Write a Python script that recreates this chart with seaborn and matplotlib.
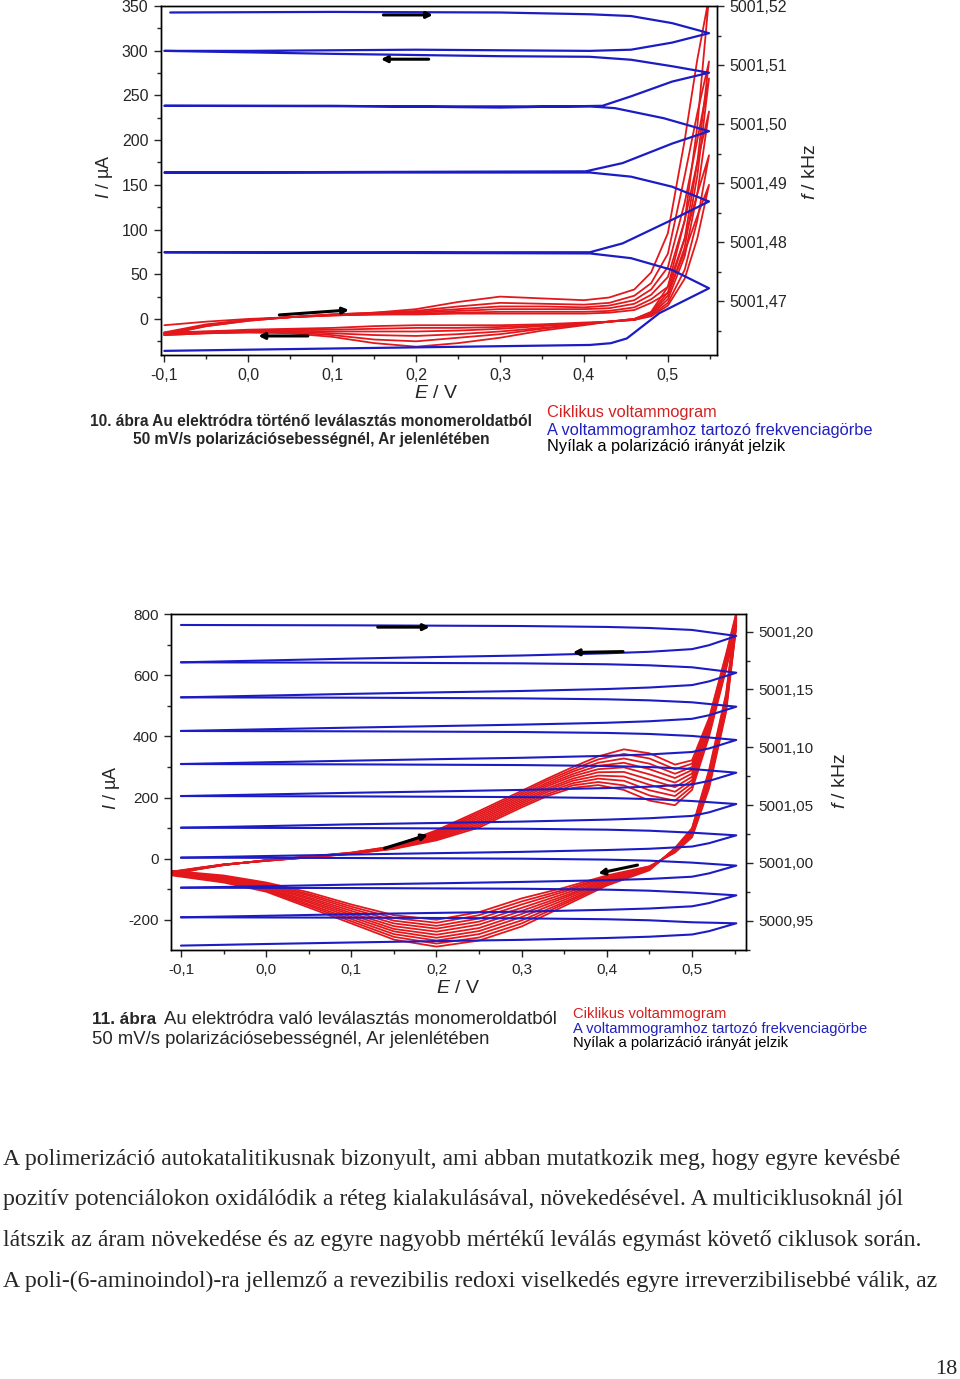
import matplotlib.pyplot as plt
import matplotlib.ticker as mticker
import seaborn as sns
import pandas as pd

# ---------------- 10. abra (upper chart) ----------------
# cyclic voltammogram, 6 cycles, current in uA
e_cv1_fwd = [-0.1, -0.05, 0.0, 0.05, 0.1, 0.15, 0.2, 0.25, 0.3, 0.35, 0.4, 0.43, 0.46, 0.48, 0.5, 0.52, 0.535, 0.549]
e_cv1_bwd = [0.549, 0.535, 0.52, 0.5, 0.48, 0.46, 0.43, 0.4, 0.35, 0.3, 0.25, 0.2, 0.15, 0.1, 0.05, 0.0, -0.05, -0.1]
i_cv1_fwd = [
    [-7, -3, 0, 2, 4, 5, 5, 6, 6, 6, 6, 7, 10, 18, 29, 75, 115, 150],
    [-15, -6, -1, 2, 4, 5, 6, 7, 8, 8, 8, 9, 13, 22, 36, 90, 140, 183],
    [-16, -7, -1, 2, 4, 6, 7, 9, 11, 11, 11, 12, 17, 27, 47, 110, 175, 232],
    [-16, -7, -1, 2, 5, 6, 8, 11, 14, 14, 13, 15, 21, 33, 58, 130, 200, 269],
    [-17, -8, -2, 2, 5, 7, 9, 14, 18, 17, 16, 18, 26, 40, 73, 160, 230, 288],
    [-18, -8, -2, 2, 5, 7, 11, 19, 25, 23, 21, 24, 33, 52, 96, 200, 290, 360],
]
i_cv1_bwd = [
    [150, 90, 45, 15, 3, -1, -3, -4, -6, -7, -7, -7, -8, -10, -11, -12, -14, -15],
    [183, 110, 55, 18, 4, -1, -3, -5, -7, -9, -10, -10, -11, -12, -12, -13, -14, -16],
    [232, 140, 70, 22, 5, -1, -3, -5, -8, -11, -13, -14, -14, -14, -13, -13, -15, -16],
    [269, 160, 80, 26, 6, 0, -3, -6, -10, -14, -17, -19, -18, -16, -14, -14, -15, -17],
    [288, 175, 90, 30, 7, 0, -3, -6, -11, -17, -21, -25, -23, -18, -15, -15, -16, -18],
    [360, 215, 110, 36, 8, 0, -3, -7, -13, -21, -27, -31, -27, -20, -16, -15, -16, -18],
]
# frequency curve (one continuous path), kHz
e_freq1 = [-0.093, 0.1, 0.3, 0.407, 0.456, 0.505, 0.549,
           0.505, 0.456, 0.407, 0.2, 0.0, -0.1,
           0.1, 0.3, 0.407, 0.456, 0.505, 0.549,
           0.505, 0.456, 0.422, 0.3, 0.1, -0.1,
           0.2, 0.407, 0.437, 0.495, 0.549,
           0.505, 0.446, 0.402, -0.1,
           0.407, 0.456, 0.505, 0.549,
           0.505, 0.446, 0.407, -0.1,
           0.407, 0.456, 0.505, 0.549,
           0.49, 0.451, 0.432, 0.407, 0.1, -0.1]
f_freq1 = [5001.5189, 5001.5190, 5001.5189, 5001.5186, 5001.5183, 5001.5171, 5001.5154,
           5001.5138, 5001.5126, 5001.5124, 5001.5126, 5001.5124, 5001.5124,
           5001.5119, 5001.5115, 5001.5114, 5001.5109, 5001.5098, 5001.5087,
           5001.5072, 5001.5047, 5001.5031, 5001.5028, 5001.5031, 5001.5031,
           5001.5030, 5001.5030, 5001.5027, 5001.5010, 5001.4988,
           5001.4967, 5001.4934, 5001.4920, 5001.4918,
           5001.4918, 5001.4911, 5001.4894, 5001.4869,
           5001.4838, 5001.4798, 5001.4783, 5001.4783,
           5001.4781, 5001.4773, 5001.4753, 5001.4722,
           5001.4680, 5001.4637, 5001.4629, 5001.4626, 5001.4620, 5001.4616]

# ---------------- 11. abra (lower chart) ----------------
e_cv2_fwd = [-0.11, -0.08, -0.05, 0.0, 0.05, 0.1, 0.15, 0.2, 0.25, 0.3, 0.33, 0.36, 0.39, 0.42, 0.45, 0.48, 0.5, 0.52, 0.54, 0.552]
e_cv2_bwd = [0.552, 0.54, 0.52, 0.5, 0.48, 0.45, 0.4, 0.35, 0.3, 0.25, 0.2, 0.15, 0.1, 0.05, 0.0, -0.05, -0.11]
i_cv2_fwd = [
    [-42, -30, -19, -7, 4, 16, 32, 60, 102, 168, 205, 232, 241, 225, 190, 175, 225, 400, 620, 760],
    [-43, -31, -19, -7, 4, 16, 33, 64, 108, 174, 211, 240, 251, 240, 207, 190, 236, 407, 626, 765],
    [-44, -31, -19, -7, 5, 17, 34, 67, 114, 180, 218, 247, 262, 255, 224, 205, 247, 413, 631, 770],
    [-45, -32, -20, -6, 5, 17, 35, 71, 120, 186, 224, 255, 272, 269, 242, 219, 257, 420, 637, 775],
    [-46, -32, -20, -6, 5, 18, 36, 75, 126, 192, 230, 262, 283, 284, 259, 234, 268, 427, 642, 780],
    [-47, -33, -20, -6, 6, 18, 37, 78, 132, 198, 237, 270, 293, 299, 276, 249, 279, 433, 648, 785],
    [-48, -33, -20, -6, 6, 18, 38, 82, 138, 204, 243, 277, 304, 314, 293, 264, 290, 440, 653, 790],
    [-49, -34, -21, -5, 6, 19, 39, 86, 144, 210, 249, 285, 314, 328, 311, 278, 300, 447, 659, 795],
    [-50, -34, -21, -5, 7, 19, 40, 89, 150, 216, 256, 292, 325, 343, 328, 293, 311, 453, 664, 800],
    [-52, -35, -21, -5, 7, 20, 41, 93, 156, 222, 262, 300, 335, 358, 345, 308, 322, 460, 670, 805],
]
i_cv2_bwd = [
    [760, 480, 230, 70, 20, -25, -55, -95, -130, -175, -200, -185, -150, -110, -78, -55, -40],
    [765, 487, 237, 73, 22, -26, -59, -102, -140, -185, -210, -194, -157, -116, -81, -58, -42],
    [770, 493, 243, 77, 23, -28, -62, -108, -150, -196, -220, -203, -164, -121, -85, -60, -43],
    [775, 500, 250, 80, 25, -29, -66, -115, -161, -206, -229, -212, -171, -127, -88, -63, -45],
    [780, 507, 257, 83, 27, -31, -70, -122, -171, -216, -239, -221, -178, -132, -91, -65, -47],
    [785, 513, 263, 87, 28, -32, -73, -128, -181, -227, -249, -230, -184, -138, -95, -68, -48],
    [790, 520, 270, 90, 30, -33, -77, -135, -191, -237, -259, -238, -191, -143, -98, -70, -50],
    [795, 527, 277, 93, 32, -35, -81, -142, -202, -247, -268, -247, -198, -149, -101, -73, -52],
    [800, 533, 283, 97, 33, -36, -84, -148, -212, -258, -278, -256, -205, -154, -105, -75, -53],
    [805, 540, 290, 100, 35, -38, -88, -155, -222, -268, -288, -265, -212, -160, -108, -78, -55],
]
e_freq2_fwd = [-0.1, 0.1, 0.3, 0.4, 0.45, 0.5, 0.552]
e_freq2_ret = [0.552, 0.52, 0.5, 0.45, 0.4, 0.3, 0.2, 0.1, 0.0, -0.1]
f_freq2_fwd = [
    [5001.2058, 5001.2055, 5001.2049, 5001.2041, 5001.2032, 5001.2015, 5001.1963],
    [5001.1735, 5001.1732, 5001.1726, 5001.1718, 5001.1709, 5001.1692, 5001.1645],
    [5001.1432, 5001.1429, 5001.1423, 5001.1415, 5001.1406, 5001.1389, 5001.1351],
    [5001.1141, 5001.1138, 5001.1132, 5001.1124, 5001.1115, 5001.1098, 5001.1063],
    [5001.0855, 5001.0852, 5001.0846, 5001.0838, 5001.0829, 5001.0812, 5001.0780],
    [5001.0578, 5001.0575, 5001.0569, 5001.0561, 5001.0552, 5001.0535, 5001.0509],
    [5001.0304, 5001.0301, 5001.0295, 5001.0287, 5001.0278, 5001.0261, 5001.0238],
    [5001.0045, 5001.0042, 5001.0036, 5001.0028, 5001.0019, 5001.0002, 5000.9976],
    [5000.9785, 5000.9782, 5000.9776, 5000.9768, 5000.9759, 5000.9742, 5000.9719],
    [5000.9529, 5000.9526, 5000.9520, 5000.9512, 5000.9503, 5000.9486, 5000.9477],
]
f_freq2_ret = [
    [5001.1963, 5001.1883, 5001.1849, 5001.1826, 5001.1813, 5001.1794, 5001.1781, 5001.1767, 5001.1751, 5001.1735],
    [5001.1645, 5001.1570, 5001.1538, 5001.1517, 5001.1504, 5001.1487, 5001.1475, 5001.1462, 5001.1447, 5001.1432],
    [5001.1351, 5001.1277, 5001.1246, 5001.1225, 5001.1212, 5001.1196, 5001.1183, 5001.1170, 5001.1156, 5001.1141],
    [5001.1063, 5001.0990, 5001.0959, 5001.0938, 5001.0926, 5001.0909, 5001.0897, 5001.0884, 5001.0870, 5001.0855],
    [5001.0780, 5001.0709, 5001.0679, 5001.0659, 5001.0647, 5001.0631, 5001.0618, 5001.0606, 5001.0592, 5001.0578],
    [5001.0509, 5001.0437, 5001.0406, 5001.0386, 5001.0374, 5001.0357, 5001.0345, 5001.0333, 5001.0318, 5001.0304],
    [5001.0238, 5001.0170, 5001.0141, 5001.0122, 5001.0111, 5001.0095, 5001.0084, 5001.0072, 5001.0059, 5001.0045],
    [5000.9976, 5000.9909, 5000.9880, 5000.9861, 5000.9850, 5000.9835, 5000.9823, 5000.9812, 5000.9798, 5000.9785],
    [5000.9719, 5000.9652, 5000.9624, 5000.9605, 5000.9594, 5000.9578, 5000.9567, 5000.9556, 5000.9542, 5000.9529],
    [5000.9477, 5000.9409, 5000.9380, 5000.9361, 5000.9350, 5000.9334, 5000.9323, 5000.9311, 5000.9298, 5000.9284],
]

# tick labels
e_ticks = [-0.1, 0.0, 0.1, 0.2, 0.3, 0.4, 0.5]
e_labels = ['-0,1', '0,0', '0,1', '0,2', '0,3', '0,4', '0,5']
i1_ticks = [0, 50, 100, 150, 200, 250, 300, 350]
f1_ticks = [5001.47, 5001.48, 5001.49, 5001.50, 5001.51, 5001.52]
f1_labels = ['5001,47', '5001,48', '5001,49', '5001,50', '5001,51', '5001,52']
i2_ticks = [-200, 0, 200, 400, 600, 800]
f2_ticks = [5000.95, 5001.00, 5001.05, 5001.10, 5001.15, 5001.20]
f2_labels = ['5000,95', '5001,00', '5001,05', '5001,10', '5001,15', '5001,20']

paragraph = [
    'A polimerizáció autokatalitikusnak bizonyult, ami abban mutatkozik meg, hogy egyre kevésbé',
    'pozitív potenciálokon oxidálódik a réteg kialakulásával, növekedésével. A multiciklusoknál jól',
    'látszik az áram növekedése és az egyre nagyobb mértékű leválás egymást követő ciklusok során.',
    'A poli-(6-aminoindol)-ra jellemző a revezibilis redoxi viselkedés egyre irreverzibilisebbé válik, az',
]

RED = '#e3181c'
BLUE = '#1c1cc4'

sns.set_style('ticks')
plt.rcParams['font.family'] = ['Liberation Sans', 'DejaVu Sans']
plt.rcParams['mathtext.fontset'] = 'custom'
plt.rcParams['mathtext.rm'] = 'Liberation Sans'
plt.rcParams['mathtext.it'] = 'Liberation Sans:italic'
plt.rcParams['axes.linewidth'] = 1.0
plt.rcParams['axes.edgecolor'] = 'black'

W, H = 960, 1379


def cv_frame(e_fwd, e_bwd, fwd, bwd, name):
    rows = []
    for k in range(len(fwd)):
        for e, v in zip(e_fwd, fwd[k]):
            rows.append((k, e, v))
        for e, v in zip(e_bwd, bwd[k]):
            rows.append((k, e, v))
    return pd.DataFrame(rows, columns=['cycle', 'E', name])


def style(ax, ax2, xlim, ylim, flim, iticks, iminor, fticks, flabels, fminor, fs):
    ax.set_xlim(xlim)
    ax.set_ylim(ylim)
    ax2.set_ylim(flim)
    ax.set_xticks(e_ticks, e_labels)
    ax.xaxis.set_minor_locator(mticker.MultipleLocator(0.05))
    ax.set_yticks(iticks, [str(t) for t in iticks])
    ax.yaxis.set_minor_locator(mticker.MultipleLocator(iminor))
    ax2.set_yticks(fticks, flabels)
    ax2.yaxis.set_minor_locator(mticker.MultipleLocator(fminor))
    for a in (ax, ax2):
        a.tick_params(which='major', direction='out', length=5, width=1, labelsize=fs, pad=4)
        a.tick_params(which='minor', direction='out', length=3, width=1)
        for s in a.spines.values():
            s.set_visible(True)
            s.set_color('black')
    ax.set_xlabel('$\\it{E}$ / V', fontsize=14)
    ax.set_ylabel('$\\it{I}$ / µA', fontsize=13)
    ax2.set_ylabel('$\\it{f}$ / kHz', fontsize=14)


def arrow(ax, ref, start, end):
    ax.annotate('', xy=end, xytext=start, xycoords=ref.transData, textcoords=ref.transData,
                arrowprops=dict(arrowstyle='-|>', color='black', lw=2.2, mutation_scale=9,
                                shrinkA=0, shrinkB=0), zorder=10)


fig = plt.figure(figsize=(W / 100, H / 100), dpi=100)


def px_axes(l, t, r, b):
    return fig.add_axes([l / W, 1 - b / H, (r - l) / W, (b - t) / H])


def px_text(x, y, s, **kw):
    fig.text(x / W, 1 - y / H, s, va='center', **kw)


# upper chart
ax1 = px_axes(161, 6, 717, 355)
ax1b = ax1.twinx()
df1 = cv_frame(e_cv1_fwd, e_cv1_bwd, i_cv1_fwd, i_cv1_bwd, 'I')
sns.lineplot(data=df1, x='E', y='I', units='cycle', estimator=None, sort=False,
             color=RED, lw=1.3, ax=ax1, legend=False)
sns.lineplot(x=e_freq1, y=f_freq1, estimator=None, sort=False, color=BLUE, lw=1.6, ax=ax1b)
style(ax1, ax1b, (-0.104, 0.5585), (-40.3, 350), (5001.4609, 5001.52),
      i1_ticks, 25, f1_ticks, f1_labels, 0.005, 11.5)
ax1.yaxis.set_label_coords(-0.082, 0.51)
ax1b.yaxis.set_label_coords(1.152, 0.525)
ax1.xaxis.set_label_coords(0.495, -0.085)
arrow(ax1b, ax1, (0.161, 340), (0.220, 340))
arrow(ax1b, ax1, (0.215, 290.5), (0.158, 290.5))
arrow(ax1b, ax1, (0.037, 4.5), (0.12, 10))
arrow(ax1b, ax1, (0.071, -19), (0.012, -19))

# lower chart
ax2 = px_axes(171, 614, 746, 950)
ax2b = ax2.twinx()
df2 = cv_frame(e_cv2_fwd, e_cv2_bwd, i_cv2_fwd, i_cv2_bwd, 'I')
df2f = cv_frame(e_freq2_fwd, e_freq2_ret, f_freq2_fwd, f_freq2_ret, 'f')
sns.lineplot(data=df2, x='E', y='I', units='cycle', estimator=None, sort=False,
             color=RED, lw=1.3, ax=ax2, legend=False)
sns.lineplot(data=df2f, x='E', y='f', units='cycle', estimator=None, sort=False,
             color=BLUE, lw=1.5, ax=ax2b, legend=False)
style(ax2, ax2b, (-0.1117, 0.5634), (-299, 801), (5000.9246, 5001.2153),
      i2_ticks, 100, f2_ticks, f2_labels, 0.025, 11)
ax2.yaxis.set_label_coords(-0.086, 0.484)
ax2b.yaxis.set_label_coords(1.150, 0.504)
ax2.xaxis.set_label_coords(0.499, -0.09)
arrow(ax2b, ax2, (0.131, 758), (0.192, 758))
arrow(ax2b, ax2, (0.419, 678), (0.36, 675))
arrow(ax2b, ax2, (0.139, 34), (0.19, 78))
arrow(ax2b, ax2, (0.436, -21), (0.39, -48))

# captions
px_text(311, 422, '10. ábra Au elektródra történő leválasztás monomeroldatból',
        ha='center', fontsize=11.2, fontweight='bold')
px_text(311, 439, '50 mV/s polarizációsebességnél, Ar jelenlétében',
        ha='center', fontsize=11.2, fontweight='bold')
px_text(547, 413, 'Ciklikus voltammogram', fontsize=11.8, color='#d42020')
px_text(547, 430, 'A voltammogramhoz tartozó frekvenciagörbe', fontsize=11.8, color='#2020c0')
px_text(547, 447, 'Nyílak a polarizáció irányát jelzik', fontsize=11.8, color='black')

px_text(92, 1020, '11. ábra', fontsize=12.4, fontweight='bold')
px_text(164, 1020, 'Au elektródra való leválasztás monomeroldatból', fontsize=13.35)
px_text(92, 1039, '50 mV/s polarizációsebességnél, Ar jelenlétében', fontsize=13.35)
px_text(573, 1014, 'Ciklikus voltammogram', fontsize=10.65, color='#d42020')
px_text(573, 1029, 'A voltammogramhoz tartozó frekvenciagörbe', fontsize=10.65, color='#2020c0')
px_text(573, 1043, 'Nyílak a polarizáció irányát jelzik', fontsize=10.65, color='black')

for n, line in enumerate(paragraph):
    px_text(3, 1159 + n * 40.7, line, fontsize=17.1, family='Liberation Serif')
px_text(957, 1370, '18', ha='right', fontsize=16, family='Liberation Serif')

fig.savefig('out.png', dpi=100, facecolor='white')
